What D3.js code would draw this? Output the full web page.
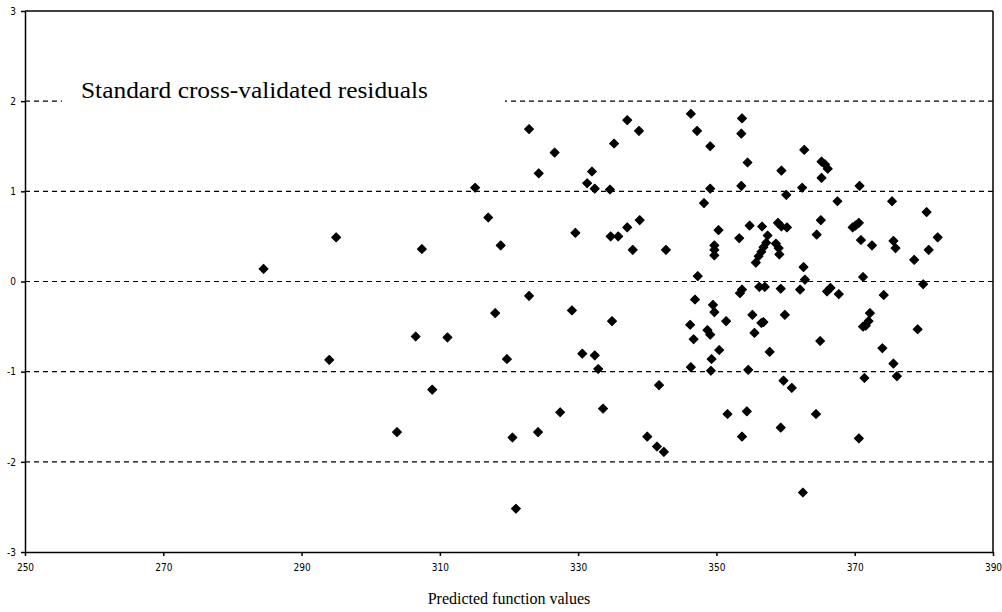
<!DOCTYPE html>
<html>
<head>
<meta charset="utf-8">
<script src="https://cdn.jsdelivr.net/npm/d3@7"></script>
<style>
  body { margin: 0; background: #fff; }
  .tick text { font-family: "Liberation Sans Narrow", "DejaVu Sans Condensed", sans-serif; font-size: 10px; }
</style>
</head>
<body>
<script>
// values
var predicted = [284.5, 295.0, 294.0, 307.4, 306.5, 311.1, 308.9, 303.8, 315.1, 317.0,
  318.8, 318.0, 319.7, 320.5, 321.0, 322.9, 322.9, 324.3, 324.2, 326.6,
  327.4, 329.6, 329.1, 330.6, 331.3, 332.0, 332.4, 332.4, 332.9, 333.6,
  334.6, 334.7, 334.9, 335.2, 335.8, 337.1, 337.1, 337.9, 338.8, 338.9,
  340.0, 341.4, 341.7, 342.4, 342.7, 346.3, 346.2, 346.3, 346.7, 346.9,
  347.2, 347.3, 348.2, 348.7, 349.1, 349.1, 349.1, 349.2, 349.3, 349.5,
  349.7, 349.7, 349.7, 349.7, 350.3, 350.4, 351.4, 351.6, 353.3, 353.4,
  353.6, 353.6, 353.7, 353.7, 353.7, 354.4, 354.5, 354.6, 354.8, 355.2,
  355.5, 355.7, 356.1, 356.2, 356.5, 356.5, 356.6, 356.8, 356.8, 357.0,
  357.2, 357.4, 357.7, 358.6, 358.9, 359.0, 359.1, 359.3, 359.3, 359.4,
  359.4, 359.7, 359.9, 360.1, 360.2, 360.9, 362.1, 362.4, 362.5, 362.6,
  362.7, 362.8, 364.4, 364.5, 365.0, 365.1, 365.2, 365.2, 365.7, 366.0,
  366.1, 366.5, 367.5, 367.7, 369.7, 370.1, 370.6, 370.6, 370.7, 370.9,
  371.2, 371.2, 371.4, 371.6, 372.0, 372.2, 372.5, 374.0, 374.2, 375.4,
  375.6, 375.6, 375.9, 376.1, 378.6, 379.1, 379.9, 380.4, 380.7, 382.0];
var residuals = [0.14, 0.49, -0.87, 0.36, -0.61, -0.62, -1.20, -1.67, 1.04, 0.71,
  0.40, -0.35, -0.86, -1.73, -2.52, 1.69, -0.16, 1.20, -1.67, 1.43,
  -1.45, 0.54, -0.32, -0.80, 1.09, 1.22, 1.03, -0.82, -0.97, -1.41,
  1.02, 0.50, -0.44, 1.53, 0.50, 1.79, 0.60, 0.35, 1.67, 0.68,
  -1.72, -1.83, -1.15, -1.89, 0.35, 1.86, -0.48, -0.95, -0.64, -0.20,
  1.67, 0.06, 0.87, -0.54, -0.59, 1.50, 1.03, -0.99, -0.86, -0.26,
  -0.34, 0.40, 0.35, 0.29, 0.57, -0.76, -0.44, -1.47, 0.48, -0.13,
  1.64, 1.06, 1.81, -0.09, -1.72, -1.44, 1.32, -0.98, 0.62, -0.37,
  -0.57, 0.21, 0.28, -0.06, 0.33, -0.46, 0.61, 0.38, -0.45, -0.06,
  0.43, 0.51, -0.78, 0.42, 0.65, 0.37, 0.30, -0.08, -1.62, 1.23,
  0.61, -1.10, -0.37, 0.96, 0.60, -1.18, -0.09, 1.04, -2.34, 0.16,
  1.46, 0.02, -1.47, 0.52, -0.66, 0.68, 1.33, 1.15, 1.30, -0.11,
  1.25, -0.07, 0.89, -0.14, 0.60, 0.62, 0.65, -1.74, 1.06, 0.46,
  0.05, -0.50, -1.07, -0.49, -0.44, -0.35, 0.40, -0.74, -0.15, 0.89,
  0.45, -0.91, 0.37, -1.05, 0.24, -0.53, -0.03, 0.77, 0.35, 0.49];
var xTicks = [250, 270, 290, 310, 330, 350, 370, 390];
var yTicks = [-3, -2, -1, 0, 1, 2, 3];
var gridLevels = [-2, -1, 0, 1, 2];
var title = "Standard cross-validated residuals";
var xLabel = "Predicted function values";

var margin = {top: 11, right: 9, bottom: 60, left: 25};
var width = 1002 - margin.left - margin.right;
var height = 612 - margin.top - margin.bottom;

var svg = d3.select("body").append("svg")
    .attr("width", 1002)
    .attr("height", 612)
  .append("g")
    .attr("transform", "translate(" + margin.left + "," + margin.top + ")");

var x = d3.scaleLinear().domain([250, 390]).range([0, width]);
var y = d3.scaleLinear().domain([-3, 3]).range([height, 0]);

// dashed reference lines
svg.selectAll(".grid")
    .data(gridLevels)
  .enter().append("line")
    .attr("class", "grid")
    .attr("x1", 0)
    .attr("x2", width)
    .attr("y1", function(d) { return y(d); })
    .attr("y2", function(d) { return y(d); })
    .attr("stroke", "#000")
    .attr("stroke-width", 1.2)
    .attr("stroke-dasharray", "5,4");

// title sits on top of the line at 2, with a white box behind it
svg.append("rect")
    .attr("x", 37)
    .attr("y", y(2) - 24)
    .attr("width", 443)
    .attr("height", 32)
    .attr("fill", "#fff");

svg.append("text")
    .attr("x", 56)
    .attr("y", y(2) - 3)
    .attr("font-family", "Liberation Serif, Times New Roman, serif")
    .attr("font-size", "24px")
    .attr("textLength", 347)
    .attr("lengthAdjust", "spacingAndGlyphs")
    .text(title);

// frame: top and right edges
svg.append("line")
    .attr("x1", 0).attr("x2", width)
    .attr("y1", 0).attr("y2", 0)
    .attr("stroke", "#000").attr("stroke-width", 1.5);
svg.append("line")
    .attr("x1", width).attr("x2", width)
    .attr("y1", 0).attr("y2", height)
    .attr("stroke", "#000").attr("stroke-width", 1.5);

var plain = function(d) { return String(d); };

//bottom axis
svg.append("g")
    .attr("class", "xAxis")
    .attr("transform", "translate(0," + height + ")")
    .call(d3.axisBottom(x).tickValues(xTicks).tickFormat(plain).tickSize(4).tickSizeOuter(0).tickPadding(8))
    .call(function(g) {
      g.selectAll("path, line").attr("stroke-width", 1.5);
    });

//left axis
svg.append("g")
    .attr("class", "yAxis")
    .call(d3.axisLeft(y).tickValues(yTicks).tickFormat(plain).tickSize(4).tickSizeOuter(0).tickPadding(5))
    .call(function(g) {
      g.selectAll("path, line").attr("stroke-width", 1.5);
    });

svg.append("text")
    .attr("x", width / 2)
    .attr("y", height + 52)
    .attr("text-anchor", "middle")
    .attr("font-family", "Liberation Serif, Times New Roman, serif")
    .attr("font-size", "16px")
    .text(xLabel);

// diamond markers
var diamond = d3.symbol().type(d3.symbolSquare).size(40);
svg.selectAll(".pt")
    .data(predicted)
  .enter().append("path")
    .attr("class", "pt")
    .attr("d", diamond)
    .attr("transform", function(d, i) {
      return "translate(" + x(d) + "," + y(residuals[i]) + ") rotate(45)";
    })
    .attr("fill", "#000")
    .attr("stroke", "#000")
    .attr("stroke-width", 1)
    .attr("stroke-linejoin", "round");
</script>
</body>
</html>
